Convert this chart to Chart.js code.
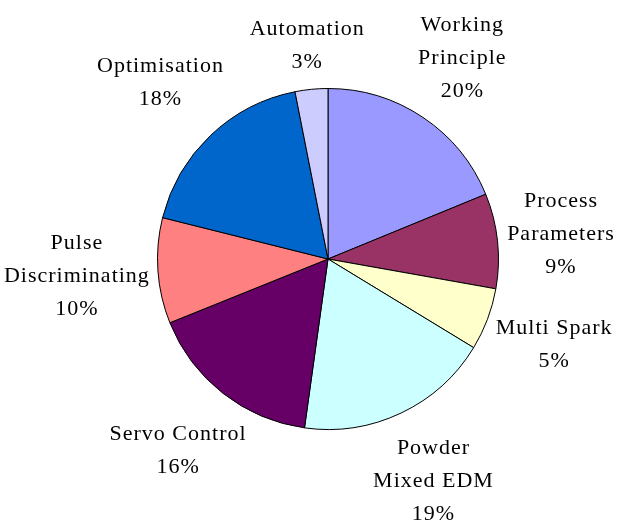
<!DOCTYPE html>
<html>
<head>
<meta charset="utf-8">
<script src="https://cdn.jsdelivr.net/npm/chart.js@4"></script>
<style>
  body { margin: 0; background: #fff; }
</style>
</head>
<body>
<canvas id="edmPie" width="617" height="520"></canvas>
<script>
// categories (one entry per line of the label), clockwise from 12 o'clock
const categories = [
  ['Working', 'Principle'],
  ['Process', 'Parameters'],
  ['Multi Spark'],
  ['Powder', 'Mixed EDM'],
  ['Servo Control'],
  ['Pulse', 'Discriminating'],
  ['Optimisation'],
  ['Automation']
];
// slice sizes (printed percentages are rounded)
const shares = [18.8, 9.0, 5.9, 18.5, 16.7, 10.0, 18.0, 3.1];
const pctLabels = ['20%', '9%', '5%', '19%', '16%', '10%', '18%', '3%'];
const sliceColors = ['#9999FF', '#993366', '#FFFFCC', '#CCFFFF', '#660066', '#FF8080', '#0066CC', '#CCCCFF'];

// labels outside the pie, box edge kept a small gap off the rim
const outsideLabels = {
  id: 'outsideLabels',
  afterDatasetsDraw(chart) {
    const ctx = chart.ctx;
    const meta = chart.getDatasetMeta(0);
    const lineH = 33;
    ctx.save();
    ctx.font = '22px "Liberation Serif"';
    ctx.letterSpacing = '1px';
    ctx.fillStyle = '#000';
    ctx.textAlign = 'center';
    ctx.textBaseline = 'middle';
    meta.data.forEach((arc, i) => {
      const lines = categories[i].concat(pctLabels[i]);
      const w = Math.max(...lines.map(l => ctx.measureText(l).width));
      const h = lines.length * lineH;
      const mid = (arc.startAngle + arc.endAngle) / 2;
      const dx = Math.cos(mid), dy = Math.sin(mid);
      const d = arc.outerRadius + 5 + Math.abs(dx) * w / 2 + Math.abs(dy) * h / 2;
      const x = arc.x + dx * d, y = arc.y + dy * d;
      lines.forEach((l, k) => ctx.fillText(l, x, y - h / 2 + lineH * (k + 0.5)));
    });
    ctx.restore();
  }
};

new Chart(document.getElementById('edmPie'), {
  type: 'pie',
  data: {
    labels: categories.map(c => c.join(' ')),
    datasets: [{
      data: shares,
      backgroundColor: sliceColors,
      borderColor: '#000',
      borderWidth: 1
    }]
  },
  options: {
    responsive: false,
    animation: false,
    layout: { padding: { left: 157, right: 118, top: 88, bottom: 90 } },
    plugins: {
      legend: { display: false },
      tooltip: { enabled: false }
    }
  },
  plugins: [outsideLabels]
});
</script>
</body>
</html>
